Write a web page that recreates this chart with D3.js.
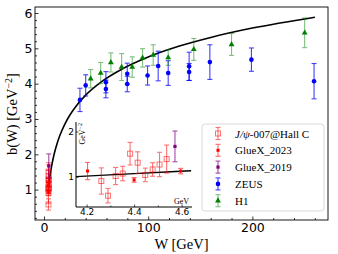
<!DOCTYPE html>
<html>
<head>
<meta charset="utf-8">
<script src="https://cdn.jsdelivr.net/npm/d3@7"></script>
<style>
body { margin: 0; background: #fff; }
.tick text { font-family: "DejaVu Sans", sans-serif; fill: #000; }
</style>
</head>
<body>
<div id="chart"></div>
<script>
// values
var jpsiW = [4.262, 4.290, 4.322, 4.352, 4.383, 4.415, 4.447, 4.478, 4.507, 4.537];
var jpsiB = [0.905, 0.58, 1.015, 1.07, 1.51, 1.31, 1.04, 1.16, 1.27, 1.39];
var jpsiE = [0.29, 0.16, 0.19, 0.16, 0.25, 0.24, 0.15, 0.15, 0.27, 0.31];

var gx23W = [4.204, 4.400, 4.596];
var gx23B = [1.125, 0.93, 1.125];
var gx23E = [0.19, 0.05, 0.06];

var gx19W = [4.572];
var gx19B = [1.67];
var gx19E = [0.34];

var zeusW = [34.5, 40.0, 59.4, 59.4, 79.9, 79.9, 99.4, 109.6, 119.2, 139.3, 139.3, 159.2, 199.1, 259.2];
var zeusB = [3.54, 3.95, 4.04, 3.85, 4.28, 3.99, 4.23, 4.50, 4.30, 4.49, 4.33, 4.61, 4.68, 4.07];
var zeusE = [0.33, 0.30, 0.30, 0.25, 0.30, 0.22, 0.27, 0.42, 0.35, 0.40, 0.24, 0.49, 0.33, 0.50];

var h1W = [44.8, 54.4, 64.2, 74.5, 84.7, 94.6, 104.8, 119.2, 143.8, 180.0, 250.2];
var h1B = [4.14, 4.30, 4.60, 4.47, 4.47, 4.73, 4.81, 4.74, 4.97, 5.11, 5.44];
var h1E = [0.26, 0.30, 0.27, 0.38, 0.29, 0.26, 0.29, 0.22, 0.31, 0.31, 0.42];

// fit curve, points
var curveW = [4.04, 4.15, 4.4, 4.64, 5, 6, 7, 8.5, 10, 12.5, 15, 20, 25, 30, 40, 55, 75, 100, 130, 160, 200, 260];
var curveB = [0.968, 1.0, 1.069, 1.132, 1.22, 1.435, 1.617, 1.846, 2.038, 2.301, 2.516, 2.856, 3.119, 3.334, 3.674, 4.05, 4.415, 4.755, 5.065, 5.309, 5.573, 5.882];

var xTicks = [0, 100, 200];
var yTicks = [1, 2, 3, 4, 5, 6];
var insetXTicks = [4.2, 4.4, 4.6];
var insetYTicks = [1, 2];

var legendNames = ["J/\u03c8-007@Hall C", "GlueX_2023", "GlueX_2019", "ZEUS", "H1"];

var svgwidth = 338, svgheight = 254;
var svg = d3.select("#chart").append("svg")
    .attr("width", svgwidth)
    .attr("height", svgheight);

var x = d3.scaleLinear().domain([-8.65, 272.6]).range([35, 328]);
var y = d3.scaleLinear().domain([0.14, 6.17]).range([220, 7]);

// main axes, ticks pointing in
var xAxisg = svg.append("g").attr("transform", "translate(0,220)")
    .call(d3.axisBottom(x).tickValues(xTicks).tickSizeInner(-3.5).tickSizeOuter(0).tickPadding(3).tickFormat(d3.format("d")));
svg.append("g").attr("transform", "translate(0,220)")
    .call(d3.axisBottom(x).tickValues(d3.range(0, 271, 20).filter(function(v) { return v % 100 != 0; }))
        .tickSizeInner(-2).tickSizeOuter(0).tickFormat(""));
var yAxisg = svg.append("g").attr("transform", "translate(35,0)")
    .call(d3.axisLeft(y).tickValues(yTicks).tickSizeInner(-3.5).tickSizeOuter(0).tickPadding(2.5).tickFormat(d3.format("d")));
svg.append("g").attr("transform", "translate(35,0)")
    .call(d3.axisLeft(y).tickValues(d3.range(2, 62, 2).map(function(v) { return v / 10; }).filter(function(v) { return Math.abs(v - Math.round(v)) > 0.01; }))
        .tickSizeInner(-2).tickSizeOuter(0).tickFormat(""));
svg.selectAll(".domain").remove();
svg.selectAll(".tick line").attr("stroke", "#000").attr("stroke-width", 0.8);
xAxisg.selectAll("text").style("font-size", "12.5px");
yAxisg.selectAll("text").style("font-size", "12.5px");

svg.append("rect").attr("x", 35).attr("y", 7).attr("width", 293).attr("height", 213)
    .attr("fill", "none").attr("stroke", "#000").attr("stroke-width", 0.9);

svg.append("text").attr("x", 181.5).attr("y", 249)
    .attr("text-anchor", "middle")
    .style("font-family", "'Liberation Serif', serif").style("font-size", "14.5px")
    .text("W [GeV]");
var ylab = svg.append("text").attr("transform", "translate(17,114) rotate(-90)")
    .attr("text-anchor", "middle")
    .style("font-family", "'Liberation Serif', serif").style("font-size", "14.5px");
ylab.append("tspan").text("b(W) [GeV");
ylab.append("tspan").attr("dy", -5).style("font-size", "10px").text("\u22122");
ylab.append("tspan").attr("dy", 5).text("]");

function drawMarker(g, type, cx, cy, color, size, opacity) {
    if (type == "circle") {
        g.append("circle").attr("cx", cx).attr("cy", cy).attr("r", size)
            .attr("fill", color).attr("opacity", opacity);
    } else if (type == "tri") {
        g.append("path").attr("transform", "translate(" + cx + "," + cy + ")")
            .attr("d", d3.symbol().type(d3.symbolTriangle).size(size * size * 2.2)())
            .attr("fill", color).attr("opacity", opacity);
    } else if (type == "square") {
        g.append("rect").attr("x", cx - size).attr("y", cy - size)
            .attr("width", 2 * size).attr("height", 2 * size)
            .attr("fill", color).attr("opacity", opacity);
    } else if (type == "osquare") {
        g.append("rect").attr("x", cx - size).attr("y", cy - size)
            .attr("width", 2 * size).attr("height", 2 * size)
            .attr("fill", "none").attr("stroke", color).attr("stroke-width", 1)
            .attr("opacity", opacity);
    }
}

function errSeries(g, xs, ys, Ws, Bs, Es, s) {
    Ws.forEach(function(w, i) {
        var cx = xs(w);
        var y0 = ys(Bs[i] - Es[i]), y1 = ys(Bs[i] + Es[i]);
        var eg = g.append("g").attr("stroke", s.color).attr("stroke-width", 1.1).attr("opacity", s.errOp);
        eg.append("line").attr("x1", cx).attr("x2", cx).attr("y1", y0).attr("y2", y1);
        eg.append("line").attr("x1", cx - s.cap).attr("x2", cx + s.cap).attr("y1", y0).attr("y2", y0);
        eg.append("line").attr("x1", cx - s.cap).attr("x2", cx + s.cap).attr("y1", y1).attr("y2", y1);
        drawMarker(g, s.marker, cx, ys(Bs[i]), s.color, s.size, s.markOp);
    });
}

var styles = [
    {color: "#ff0000", marker: "osquare", size: 2.5, errOp: 0.55, markOp: 0.55, cap: 2.5},
    {color: "#ff0000", marker: "square", size: 1.5, errOp: 0.6, markOp: 1, cap: 2.5},
    {color: "#800080", marker: "square", size: 1.6, errOp: 0.7, markOp: 1, cap: 2.5},
    {color: "#0000ff", marker: "circle", size: 2.3, errOp: 0.75, markOp: 1, cap: 2.5},
    {color: "#008000", marker: "tri", size: 2.6, errOp: 0.5, markOp: 1, cap: 2.5}
];

var line = d3.line()
    .x(function(d) { return x(d[0]); })
    .y(function(d) { return y(d[1]); })
    .curve(d3.curveMonotoneX);
var curveData = curveW.map(function(w, i) { return [w, curveB[i]]; });
svg.append("path").datum(curveData).attr("d", line)
    .attr("fill", "none").attr("stroke", "#000").attr("stroke-width", 1.6);

var g = svg.append("g");
errSeries(g, x, y, zeusW, zeusB, zeusE, styles[3]);
errSeries(g, x, y, h1W, h1B, h1E, styles[4]);
errSeries(g, x, y, jpsiW, jpsiB, jpsiE, styles[0]);
errSeries(g, x, y, gx23W, gx23B, gx23E, styles[1]);
errSeries(g, x, y, gx19W, gx19B, gx19E, styles[2]);

// inset
var ix = d3.scaleLinear().domain([4.1554, 4.6437]).range([76, 192]);
var iy = d3.scaleLinear().domain([0.33, 2.21]).range([207, 122]);
var inset = svg.append("g");
inset.append("rect").attr("x", 76).attr("y", 122).attr("width", 116).attr("height", 85).attr("fill", "#fff");
svg.append("clipPath").attr("id", "insetclip").append("rect")
    .attr("x", 76).attr("y", 118).attr("width", 119).attr("height", 89);
var iax = inset.append("g").attr("transform", "translate(0,207)")
    .call(d3.axisBottom(ix).tickValues(insetXTicks).tickSizeInner(-2.5).tickSizeOuter(0).tickPadding(2).tickFormat(d3.format(".1f")));
inset.append("g").attr("transform", "translate(0,207)")
    .call(d3.axisBottom(ix).tickValues([4.3, 4.5]).tickSizeInner(-1.5).tickSizeOuter(0).tickFormat(""));
var iay = inset.append("g").attr("transform", "translate(76,0)")
    .call(d3.axisLeft(iy).tickValues(insetYTicks).tickSizeInner(-2.5).tickSizeOuter(0).tickPadding(2).tickFormat(d3.format("d")));
inset.selectAll(".domain").remove();
inset.selectAll(".tick line").attr("stroke", "#000").attr("stroke-width", 0.7);
iax.selectAll("text").style("font-size", "9px");
iay.selectAll("text").style("font-size", "9px");
inset.append("line").attr("x1", 76).attr("x2", 192).attr("y1", 207).attr("y2", 207).attr("stroke", "#000").attr("stroke-width", 1);
inset.append("line").attr("x1", 76).attr("x2", 76).attr("y1", 122).attr("y2", 207).attr("stroke", "#000").attr("stroke-width", 1);

inset.append("text").attr("x", 189).attr("y", 204).attr("text-anchor", "end")
    .style("font-family", "'Liberation Serif', serif").style("font-size", "8px").text("GeV");
var iyl = inset.append("text").attr("transform", "translate(85,123) rotate(-90)").attr("text-anchor", "end")
    .style("font-family", "'Liberation Serif', serif").style("font-size", "8px");
iyl.append("tspan").text("GeV");
iyl.append("tspan").attr("dy", -3).style("font-size", "6px").text("\u22122");

var iline = d3.line()
    .x(function(d) { return ix(d[0]); })
    .y(function(d) { return iy(d[1]); })
    .curve(d3.curveMonotoneX);
inset.append("path").datum(curveData.filter(function(d) { return d[0] < 5; }))
    .attr("d", iline).attr("clip-path", "url(#insetclip)")
    .attr("fill", "none").attr("stroke", "#000").attr("stroke-width", 1.4);

var ig = inset.append("g");
errSeries(ig, ix, iy, jpsiW, jpsiB, jpsiE, styles[0]);
errSeries(ig, ix, iy, gx23W, gx23B, gx23E, styles[1]);
errSeries(ig, ix, iy, gx19W, gx19B, gx19E, styles[2]);

// legend
var leg = svg.append("g");
leg.append("rect").attr("x", 202).attr("y", 124).attr("width", 122).attr("height", 87)
    .attr("rx", 3).attr("fill", "#fff").attr("fill-opacity", 0.8)
    .attr("stroke", "#d0d0d0").attr("stroke-width", 0.8);
legendNames.forEach(function(name, i) {
    var cy = 133.5 + i * 16.8;
    var s = styles[i];
    var eg = leg.append("g").attr("stroke", s.color).attr("stroke-width", 1.1).attr("opacity", s.errOp);
    eg.append("line").attr("x1", 218).attr("x2", 218).attr("y1", cy - 6).attr("y2", cy + 6);
    eg.append("line").attr("x1", 215.5).attr("x2", 220.5).attr("y1", cy - 6).attr("y2", cy - 6);
    eg.append("line").attr("x1", 215.5).attr("x2", 220.5).attr("y1", cy + 6).attr("y2", cy + 6);
    drawMarker(leg, s.marker, 218, cy, s.color, s.size, s.markOp);
    var t = leg.append("text").attr("x", 235).attr("y", cy + 4)
        .style("font-family", "'Liberation Serif', serif").style("font-size", "11px");
    if (i == 0) {
        t.append("tspan").style("font-style", "italic").text("J/\u03c8");
        t.append("tspan").text("-007@Hall C");
    } else {
        t.text(name);
    }
});
</script>
</body>
</html>
